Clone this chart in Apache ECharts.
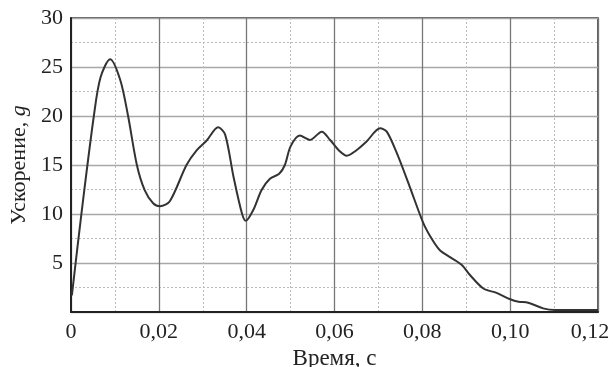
<!DOCTYPE html>
<html>
<head>
<meta charset="utf-8">
<script src="https://cdn.jsdelivr.net/npm/echarts@6/dist/echarts.min.js"></script>
<style>
  html, body { margin: 0; padding: 0; background: #fff; }
  #chart { width: 613px; height: 367px; }
</style>
</head>
<body>
<div id="chart"></div>
<script>
// time, s
const time = [
  0.0002, 0.0025, 0.0052, 0.0067, 0.0089, 0.0112, 0.0130, 0.0150, 0.0168,
  0.0187, 0.0203, 0.0225, 0.0263, 0.0286, 0.0309, 0.0335, 0.0351, 0.0370, 0.0389,
  0.0398, 0.0415, 0.0434, 0.0453, 0.0474, 0.0487, 0.0500, 0.0521, 0.0544, 0.0571,
  0.0590, 0.0612, 0.0628, 0.0650, 0.0673, 0.0704, 0.0719, 0.0742, 0.0772,
  0.0802, 0.0821, 0.0840, 0.0863, 0.0890, 0.0908, 0.0939, 0.0969, 0.1000, 0.1019,
  0.1041, 0.1075, 0.1102, 0.1150, 0.1200
];
// acceleration, g
const accel = [
  1.7, 10.5, 20.0, 23.9, 25.8, 23.7, 20.0, 15.0, 12.4,
  11.1, 10.8, 11.3, 15.0, 16.5, 17.5, 18.85, 18.1, 13.8, 10.1,
  9.3, 10.4, 12.45, 13.6, 14.1, 15.0, 16.9, 18.0, 17.55, 18.4,
  17.55, 16.4, 15.95, 16.5, 17.4, 18.75, 18.4, 16.2, 12.7,
  9.1, 7.5, 6.3, 5.6, 4.8, 3.8, 2.4, 1.95, 1.3, 1.05,
  0.95, 0.37, 0.2, 0.2, 0.2
];
const xTicks = [0, 0.02, 0.04, 0.06, 0.08, 0.10, 0.12];
const yTicks = [5, 10, 15, 20, 25, 30];

const font = '"Liberation Serif", "DejaVu Serif", serif';
const chart = echarts.init(document.getElementById('chart'), null, { renderer: 'canvas' });

chart.setOption({
  animation: false,
  grid: {
    left: 71, right: 15, top: 18, bottom: 55,
    outerBoundsMode: 'none',
    containLabel: false,
    show: true, borderColor: '#2a2a2a', borderWidth: 1.5, backgroundColor: '#fff'
  },
  xAxis: {
    type: 'value',
    min: 0, max: 0.12, interval: 0.02,
    name: 'Время, с',
    nameLocation: 'middle',
    nameGap: 28,
    nameTextStyle: { fontFamily: font, fontSize: 23, color: '#222' },
    axisLine: { show: true, lineStyle: { color: '#222', width: 2 } },
    axisTick: { show: false },
    axisLabel: {
      margin: 9, fontFamily: font, fontSize: 22, color: '#222',
      rich: { last: { fontFamily: font, fontSize: 22, color: '#222', padding: [0, 16, 0, 0] } },
      formatter: v => {
        const i = xTicks.findIndex(t => Math.abs(t - v) < 1e-9);
        if (i < 0) return '';
        if (i === 0) return '0';
        const s = xTicks[i].toFixed(2).replace('.', ',');
        return i === xTicks.length - 1 ? '{last|' + s + '}' : s;
      }
    },
    splitLine: { show: true, lineStyle: { color: '#777', width: 1.3 } },
    minorTick: { show: false, splitNumber: 2 },
    minorSplitLine: { show: true, lineStyle: { color: '#bbb', width: 1, type: [2, 2] } }
  },
  yAxis: {
    type: 'value',
    min: 0, max: 30, interval: 5,
    name: '{n|Ускорение, }{g|g}',
    nameLocation: 'middle',
    nameGap: 38,
    nameTextStyle: {
      rich: {
        n: { fontFamily: font, fontSize: 22, color: '#222' },
        g: { fontFamily: font, fontSize: 22, color: '#222', fontStyle: 'italic' }
      }
    },
    axisLine: { show: true, lineStyle: { color: '#222', width: 2 } },
    axisTick: { show: false },
    axisLabel: {
      margin: 8, fontFamily: font, fontSize: 22, color: '#222',
      formatter: v => (yTicks.includes(v) ? String(v) : '')
    },
    splitLine: { show: true, lineStyle: { color: '#a8a8a8', width: 1.3 } },
    minorTick: { show: false, splitNumber: 2 },
    minorSplitLine: { show: true, lineStyle: { color: '#bbb', width: 1, type: [2, 2] } }
  },
  series: [{
    type: 'line',
    data: time.map((t, i) => [t, accel[i]]),
    smooth: 0.3,
    showSymbol: false,
    lineStyle: { color: '#333', width: 2 }
  }]
});
</script>
</body>
</html>
